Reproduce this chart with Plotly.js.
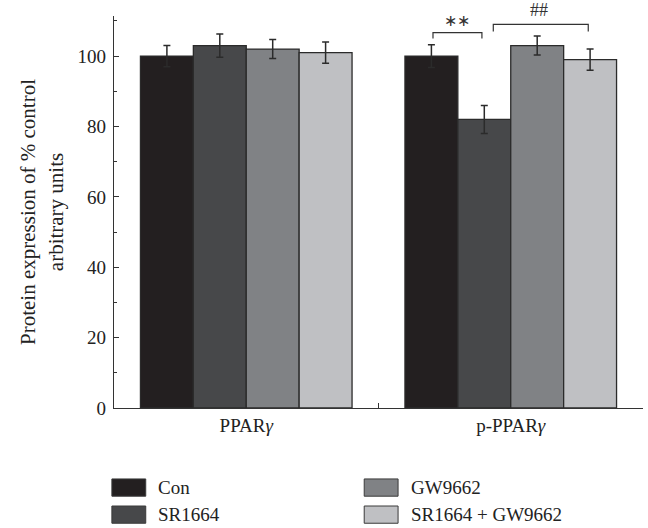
<!DOCTYPE html>
<html>
<head>
<meta charset="utf-8">
<script src="https://cdn.plot.ly/plotly-3.0.1.min.js"></script>
<style>html,body{margin:0;padding:0;background:#fff;}#chart{width:648px;height:528px;}</style>
</head>
<body>
<div id="chart"></div>
<script>
// ---- data ----
const categories = ["PPARγ", "p-PPARγ"];
const tickLabels = ["PPAR<i>γ</i>", "p-PPAR<i>γ</i>"];
const seriesNames = ["Con", "SR1664", "GW9662", "SR1664 + GW9662"];
const conValues = [100, 100];
const conErrors = [3, 3.2];
const srValues = [103, 82];
const srErrors = [3.3, 4];
const gwValues = [102, 103];
const gwErrors = [2.7, 2.7];
const srGwValues = [101, 99];
const srGwErrors = [3, 3];
const seriesColors = ["#231f20", "#47484a", "#808285", "#bfc0c3"];
const sigLabels = ["∗∗", "##"];

const values = [conValues, srValues, gwValues, srGwValues];
const errors = [conErrors, srErrors, gwErrors, srGwErrors];
const FONT = "Liberation Serif";
const FS = 19;

const traces = seriesNames.map((name, i) => ({
  type: "bar",
  name: name,
  x: categories,
  y: values[i],
  marker: {color: seriesColors[i], line: {color: "#2b2b2b", width: 1.3}},
  error_y: {type: "data", array: errors[i], visible: true, color: "#2b2b2b", thickness: 1.5, width: 3.5},
  showlegend: false
}));

// custom legend (shapes + text), two columns
const legendPos = [
  {x: -0.004, y: -0.203},
  {x: -0.004, y: -0.272},
  {x: 0.473, y: -0.203},
  {x: 0.473, y: -0.272}
];
const shapes = [];
const annotations = [];
seriesNames.forEach((name, i) => {
  const p = legendPos[i];
  shapes.push({type: "rect", xref: "paper", yref: "paper",
    x0: p.x, x1: p.x + 0.064, y0: p.y - 0.022, y1: p.y + 0.022,
    fillcolor: seriesColors[i], line: {color: "#3a3a3a", width: 1}});
  annotations.push({xref: "paper", yref: "paper", x: p.x + 0.084, y: p.y,
    text: name, showarrow: false, xanchor: "left", yanchor: "middle",
    font: {family: FONT, size: FS, color: "#222"}});
});

// significance brackets
const brackets = [
  {x0: 0.706, x1: 0.891, y: 106.7, leg: 105.0, tx: 0.797, shift: 2, size: 16, label: sigLabels[0]},
  {x0: 0.934, x1: 1.293, y: 109.0, leg: 107.0, tx: 1.108, shift: 2, size: 18, label: sigLabels[1]}
];
brackets.forEach(b => {
  shapes.push({type: "path", xref: "x", yref: "y",
    path: `M ${b.x0} ${b.leg} L ${b.x0} ${b.y} L ${b.x1} ${b.y} L ${b.x1} ${b.leg}`,
    line: {color: "#333", width: 1.2}});
  annotations.push({xref: "x", yref: "y", x: b.tx, y: b.y, yanchor: "bottom", yshift: b.shift,
    text: b.label, showarrow: false, font: {family: FONT, size: b.size, color: "#333"}});
});

const layout = {
  width: 648, height: 528,
  margin: {l: 114, r: 5, t: 16, b: 120},
  paper_bgcolor: "#fff", plot_bgcolor: "#fff",
  font: {family: FONT, size: FS, color: "#222"},
  barmode: "group",
  bargap: 0.2, bargroupgap: 0,
  xaxis: {
    type: "category",
    range: [-0.5, 1.5],
    tickmode: "array", tickvals: categories, ticktext: tickLabels,
    tickson: "boundaries", ticks: "inside", ticklen: 5, tickcolor: "#333",
    showline: true, linecolor: "#333", linewidth: 1.3,
    showgrid: false, zeroline: false,
    tickfont: {family: FONT, size: FS, color: "#222"}
  },
  yaxis: {
    range: [0, 111.4],
    tickvals: [0, 20, 40, 60, 80, 100],
    ticks: "inside", ticklen: 5, tickcolor: "#333",
    ticklabelstandoff: 3,
    minor: {tickvals: [10, 30, 50, 70, 90, 110], ticks: "inside", ticklen: 3, tickcolor: "#333"},
    showline: true, linecolor: "#333", linewidth: 1.3,
    showgrid: false, zeroline: false,
    tickfont: {family: FONT, size: FS, color: "#222"},
    title: {text: "Protein expression of % control<br>arbitrary units",
      font: {family: FONT, size: 21, color: "#222"}, standoff: 8}
  },
  shapes: shapes,
  annotations: annotations,
  showlegend: false
};

Plotly.newPlot("chart", traces, layout, {displayModeBar: false, staticPlot: true});
</script>
</body>
</html>
